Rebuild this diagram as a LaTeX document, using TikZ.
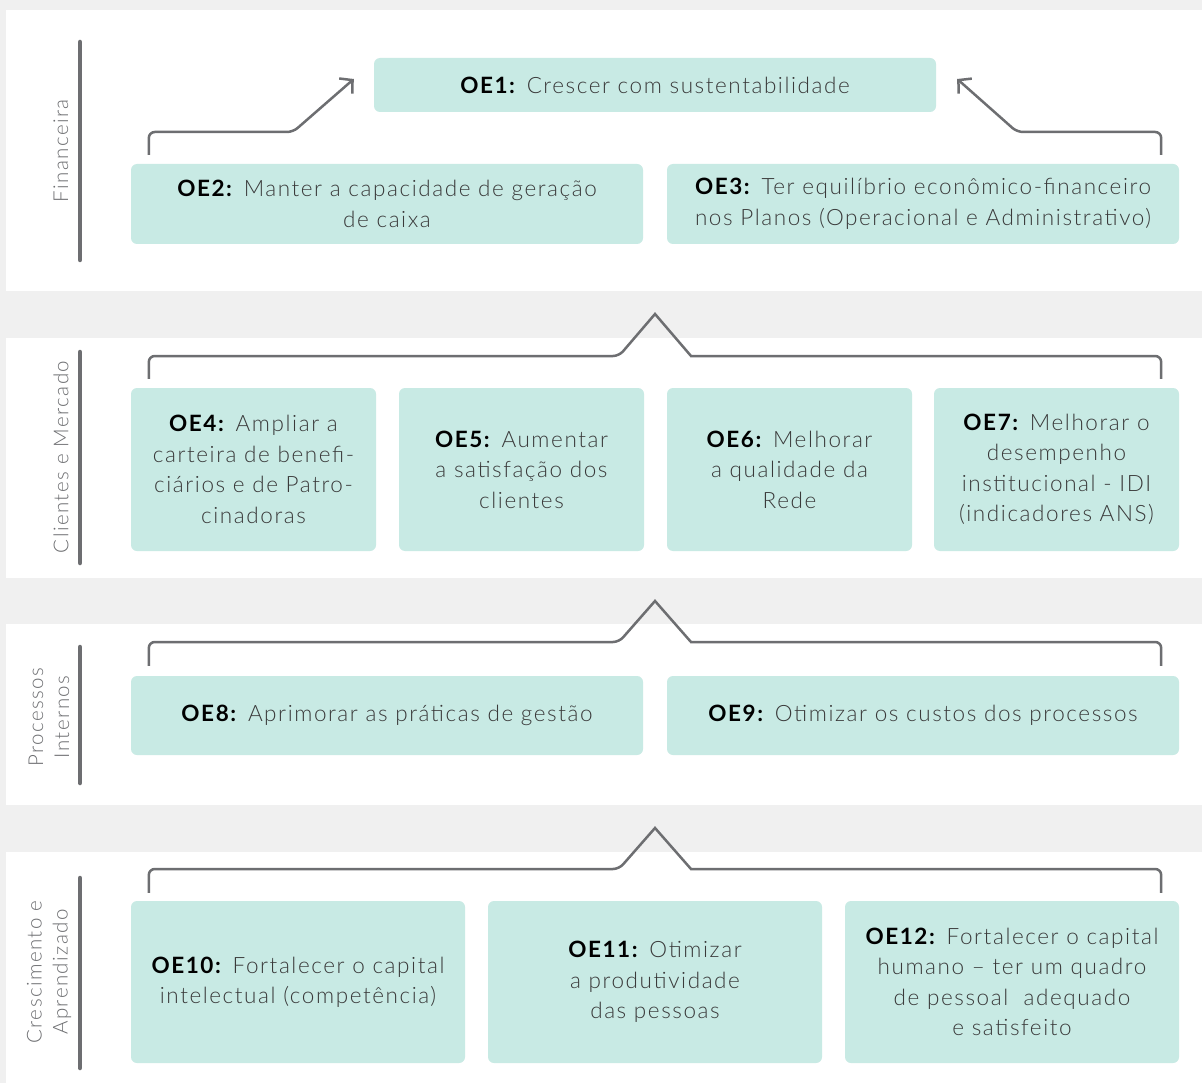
\documentclass[tikz,border=0pt]{standalone}
\usepackage{fontspec}
\setmainfont{Lato}[UprightFont=* Light, BoldFont=* Bold, LetterSpace=7]
\usetikzlibrary{arrows.meta,calc}
\definecolor{bg}{HTML}{F0F0F0}
\definecolor{mint}{HTML}{C8EAE4}
\definecolor{lgray}{HTML}{6D6E71}
\definecolor{txt}{HTML}{3A3A3A}
\newcommand\oelab[1]{\textcolor{black}{\textbf{#1}}}
\begin{document}
\begin{tikzpicture}[x=1pt,y=-1pt,
  box/.style={fill=mint, rounded corners=6pt, inner sep=0pt, align=center,
    font=\fontsize{22.5}{30.5}\selectfont, text=txt},
  conn/.style={draw=lgray, line width=2.5pt},
  bar/.style={draw=lgray, line width=4.5pt, line cap=round},
  side/.style={rotate=90, text=lgray, font=\fontsize{20.5}{26}\selectfont, align=center, inner sep=0pt},
  tip/.style={-{Straight Barb[length=9pt,width=20pt]}}]
\useasboundingbox (0,0) rectangle (1202,1083);
\fill[bg] (0,0) rectangle (1202,1083);
% panels
\fill[white] (6,10) rectangle (1202,291);
\fill[white] (6,338) rectangle (1202,578);
\fill[white] (6,624) rectangle (1202,805);
\fill[white] (6,852) rectangle (1202,1083);
% side bars
\draw[bar] (80,42) -- (80,260);
\draw[bar] (80,352) -- (80,563);
\draw[bar] (80,647) -- (80,783);
\draw[bar] (80,878) -- (80,1068);
% side labels
\node[side] (L1) at (61,151) {Financeira};
\node[side] (L2) at (61,457) {Clientes e Mercado};
\node[side] (L3) at (49,717) {Processos\\Internos};
\node[side] (L4) at (49,972) {Crescimento e\\Aprendizado};
% boxes
\node[box, minimum width=562pt, minimum height=54pt] (OE1) at (655,85) {\oelab{OE1:} Crescer com sustentabilidade};
\node[box, minimum width=512pt, minimum height=80pt] (OE2) at (387,204) {\oelab{OE2:} Manter a capacidade de geração\\de caixa};
\node[box, minimum width=512pt, minimum height=80pt] (OE3) at (923,204) {\oelab{OE3:} Ter equilíbrio econômico-financeiro\\nos Planos (Operacional e Administrativo)};
\node[box, minimum width=245pt, minimum height=163pt] (OE4) at (253.5,469.5) {\oelab{OE4:} Ampliar a\\carteira de benefi-\\ciários e de Patro-\\cinadoras};
\node[box, minimum width=245pt, minimum height=163pt] (OE5) at (521.5,469.5) {\oelab{OE5:} Aumentar\\a satisfação dos\\clientes};
\node[box, minimum width=245pt, minimum height=163pt] (OE6) at (789.5,469.5) {\oelab{OE6:} Melhorar\\a qualidade da\\Rede};
\node[box, minimum width=245pt, minimum height=163pt] (OE7) at (1056.5,469.5) {\oelab{OE7:} Melhorar o\\desempenho\\institucional - IDI\\(indicadores ANS)};
\node[box, minimum width=512pt, minimum height=79pt] (OE8) at (387,715.5) {\oelab{OE8:} Aprimorar as práticas de gestão};
\node[box, minimum width=512pt, minimum height=79pt] (OE9) at (923,715.5) {\oelab{OE9:} Otimizar os custos dos processos};
\node[box, minimum width=334pt, minimum height=162pt] (OE10) at (298,982) {\oelab{OE10:} Fortalecer o capital\\intelectual (competência)};
\node[box, minimum width=334pt, minimum height=162pt] (OE11) at (655,982) {\oelab{OE11:} Otimizar\\a produtividade\\das pessoas};
\node[box, minimum width=334pt, minimum height=162pt] (OE12) at (1012,982) {\oelab{OE12:} Fortalecer o capital\\humano – ter um quadro\\de pessoal\ \ adequado\\e satisfeito};
% arrows to OE1
\coordinate (A2) at (293,132);
\coordinate (A3) at (1017,132);
\draw[conn, tip] ($(OE2.north west)+(18,-9)$) [rounded corners=6pt] |- (A2) [sharp corners] -- ($(OE1.west)+(-20,-6)$);
\draw[conn, tip] ($(OE3.north east)+(-18,-9)$) [rounded corners=6pt] |- (A3) [sharp corners] -- ($(OE1.east)+(21,-6)$);
% bracket panel 2
\coordinate (P2l) at (619,356); \coordinate (P2t) at (655,314); \coordinate (P2r) at (691,356);
\draw[conn] ($(OE4.north west)+(18,-9)$) [rounded corners=6pt] |- (P2l) [sharp corners] -- (P2t) -- (P2r) [rounded corners=6pt] -| ($(OE7.north east)+(-18,-9)$);
% bracket panel 3
\coordinate (P3l) at (619,642); \coordinate (P3t) at (655,601); \coordinate (P3r) at (691,642);
\draw[conn] ($(OE8.north west)+(18,-10)$) [rounded corners=6pt] |- (P3l) [sharp corners] -- (P3t) -- (P3r) [rounded corners=6pt] -| ($(OE9.north east)+(-18,-10)$);
% bracket panel 4
\coordinate (P4l) at (619,869); \coordinate (P4t) at (655,828); \coordinate (P4r) at (691,869);
\draw[conn] ($(OE10.north west)+(18,-8)$) [rounded corners=6pt] |- (P4l) [sharp corners] -- (P4t) -- (P4r) [rounded corners=6pt] -| ($(OE12.north east)+(-18,-8)$);
\end{tikzpicture}
\end{document}
